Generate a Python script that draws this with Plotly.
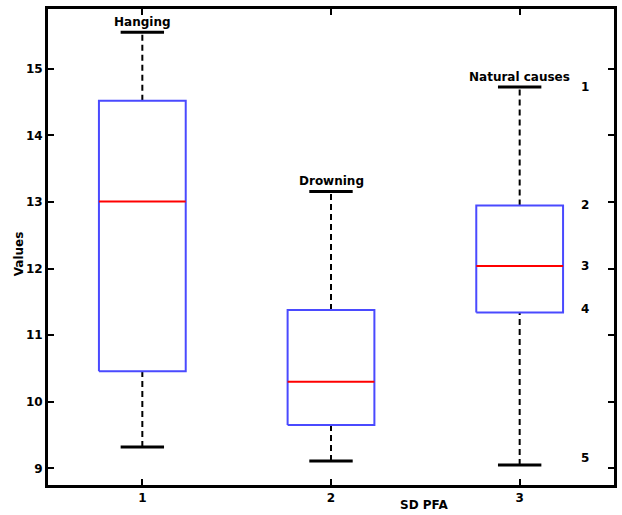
import plotly.graph_objects as go

positions = [1, 2, 3]
group_names = ["Hanging", "Drowning", "Natural causes"]
upper_whisker = [15.55, 13.16, 14.73]
q3 = [14.52, 11.38, 12.95]
median = [13.01, 10.30, 12.04]
q1 = [10.46, 9.65, 11.34]
lower_whisker = [9.32, 9.11, 9.05]
marker_labels = ["1", "2", "3", "4", "5"]
marker_values = [14.73, 12.95, 12.04, 11.39, 9.15]

x_ticks = [1, 2, 3]
y_ticks = [9, 10, 11, 12, 13, 14, 15]

BW = 0.23   # half box width
CW = 0.115  # half cap width
FONT = "DejaVu Sans, sans-serif"
BOLD = dict(family=FONT, size=12, color="black", weight="bold")

fig = go.Figure()
for i, p in enumerate(positions):
    fig.add_trace(go.Scatter(x=[p, p], y=[q3[i], upper_whisker[i]], mode="lines",
                             line=dict(color="black", width=2, dash="6px,4px"),
                             showlegend=False, hoverinfo="skip"))
    fig.add_trace(go.Scatter(x=[p, p], y=[lower_whisker[i], q1[i]], mode="lines",
                             line=dict(color="black", width=2, dash="6px,4px"),
                             showlegend=False, hoverinfo="skip"))
    fig.add_trace(go.Scatter(x=[p - CW, p + CW], y=[upper_whisker[i]] * 2, mode="lines",
                             line=dict(color="black", width=3), showlegend=False, hoverinfo="skip"))
    fig.add_trace(go.Scatter(x=[p - CW, p + CW], y=[lower_whisker[i]] * 2, mode="lines",
                             line=dict(color="black", width=3), showlegend=False, hoverinfo="skip"))
    fig.add_trace(go.Scatter(x=[p - BW, p + BW, p + BW, p - BW, p - BW],
                             y=[q1[i], q1[i], q3[i], q3[i], q1[i]], mode="lines",
                             line=dict(color="#4a4aff", width=2), showlegend=False, hoverinfo="skip"))
    fig.add_trace(go.Scatter(x=[p - BW, p + BW], y=[median[i]] * 2, mode="lines",
                             line=dict(color="red", width=2), showlegend=False, hoverinfo="skip"))
    fig.add_annotation(x=p, y=upper_whisker[i], text=group_names[i], showarrow=False,
                       yanchor="bottom", yshift=1, font=BOLD)

for lab, v in zip(marker_labels, marker_values):
    fig.add_annotation(x=3.345, y=v, text=lab, showarrow=False, font=BOLD)

# axis titles as positioned annotations
fig.add_annotation(xref="paper", yref="paper", x=0.664, y=0, yanchor="middle", yshift=-20,
                   text="SD PFA", showarrow=False, font=BOLD)
fig.add_annotation(xref="paper", yref="paper", x=-0.051, y=0.485, xanchor="center",
                   yanchor="middle", textangle=-90, text="Values", showarrow=False, font=BOLD)

axis_common = dict(showline=True, linecolor="black", linewidth=3, mirror="ticks",
                   ticks="inside", ticklen=6, tickwidth=2, tickcolor="black",
                   showgrid=False, zeroline=False, tickfont=BOLD)

fig.update_layout(
    width=622, height=515,
    margin=dict(l=48, r=5, t=9, b=30),
    plot_bgcolor="white", paper_bgcolor="white",
    xaxis=dict(range=[0.5, 3.5], tickvals=x_ticks, ticktext=[str(t) for t in x_ticks], **axis_common),
    yaxis=dict(range=[8.75, 15.9], tickvals=y_ticks, ticktext=[str(t) for t in y_ticks], **axis_common),
)

fig.write_html("out.html")
